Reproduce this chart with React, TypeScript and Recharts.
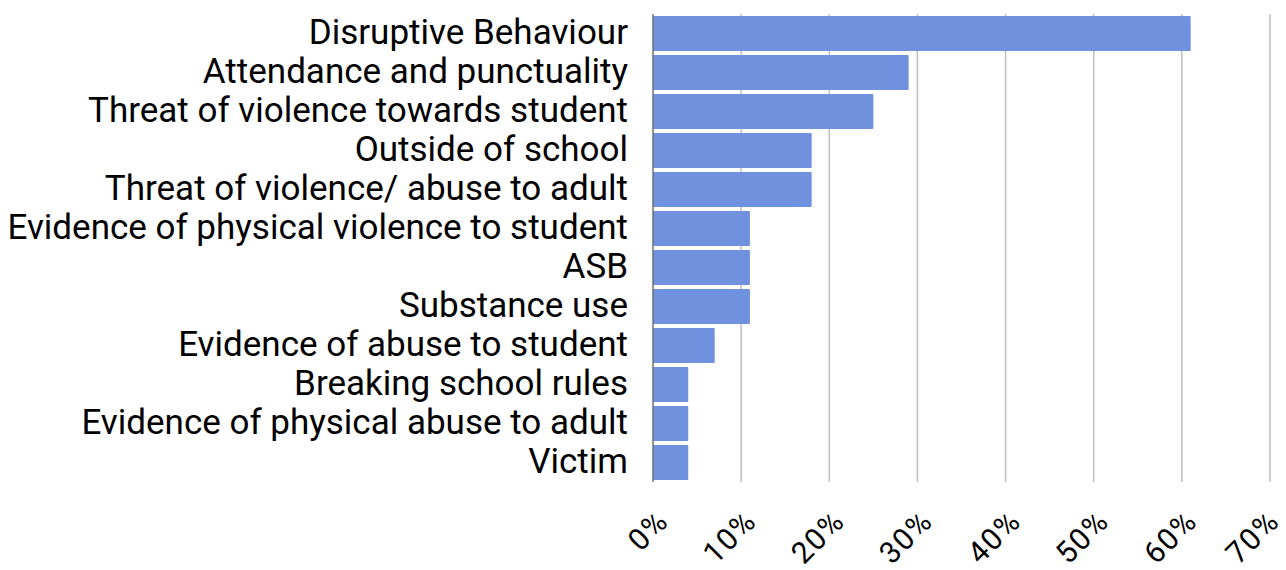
import { BarChart, Bar, XAxis, YAxis, CartesianGrid } from "recharts";

const categories = [
  "Disruptive Behaviour",
  "Attendance and punctuality",
  "Threat of violence towards student",
  "Outside of school",
  "Threat of violence/ abuse to adult",
  "Evidence of physical violence to student",
  "ASB",
  "Substance use",
  "Evidence of abuse to student",
  "Breaking school rules",
  "Evidence of physical abuse to adult",
  "Victim",
];
const shares = [0.61, 0.29, 0.25, 0.18, 0.18, 0.11, 0.11, 0.11, 0.07, 0.04, 0.04, 0.04];
const xTicks = [0, 0.1, 0.2, 0.3, 0.4, 0.5, 0.6, 0.7];

const data = categories.map((name, i) => ({ name, value: shares[i] }));

const FONT = "Roboto, 'Noto Sans', sans-serif";

const PctTick = (props: any) => {
  const { x, y, payload } = props;
  // keep the last label inside the picture
  const tx = Math.min(x + 17, 1281);
  return (
    <text
      transform={`translate(${tx},${y + 33}) rotate(-45)`}
      textAnchor="end"
      fontSize={30}
      letterSpacing={1.5}
      fontFamily={FONT}
      fill="#000"
    >
      {`${Math.round(payload.value * 100)}%`}
    </text>
  );
};

export default function App() {
  return (
    <div style={{ marginTop: -8, marginLeft: -8, background: "#fff", width: 1286, height: 570 }}>
      <BarChart
        width={1286}
        height={570}
        data={data}
        layout="vertical"
        margin={{ top: 14, right: 16, bottom: 0, left: 0 }}
        barCategoryGap={2}
      >
        <CartesianGrid horizontal={false} stroke="#bfbfbf" strokeWidth={1.5} />
        <XAxis
          type="number"
          domain={[0, 0.7]}
          ticks={xTicks}
          interval={0}
          axisLine={false}
          tickLine={false}
          height={88}
          tick={<PctTick />}
        />
        <YAxis
          type="category"
          dataKey="name"
          width={653}
          interval={0}
          tickLine={false}
          axisLine={{ stroke: "#595959", strokeWidth: 1 }}
          tickSize={0}
          tickMargin={25}
          tick={{ fontSize: 35, fontFamily: FONT, fill: "#000", dy: -2 }}
        />
        <Bar dataKey="value" fill="#6f91de" radius={1} isAnimationActive={false} />
      </BarChart>
    </div>
  );
}
